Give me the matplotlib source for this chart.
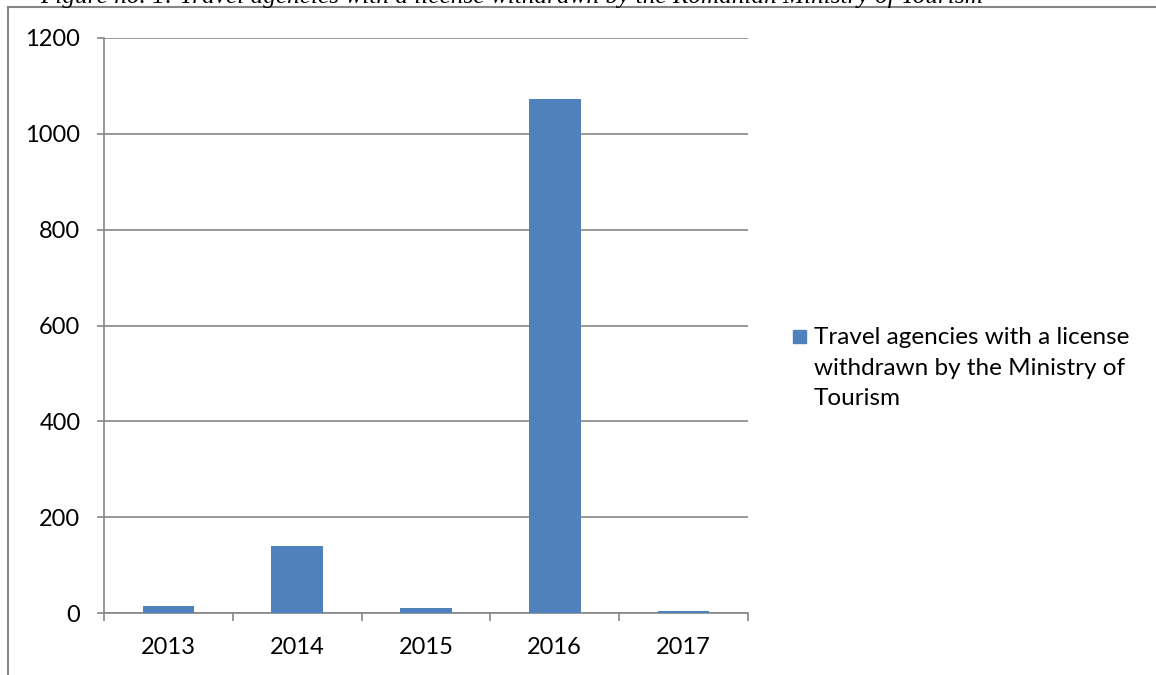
import numpy as np
import matplotlib.pyplot as plt
from matplotlib.lines import Line2D
from matplotlib.patches import Rectangle

# data
years = ["2013", "2014", "2015", "2016", "2017"]
withdrawn = [15, 140, 10, 1073, 5]
yticks = [0, 200, 400, 600, 800, 1000, 1200]
legend_label = "Travel agencies with a license\nwithdrawn by the Ministry of\nTourism"
caption = "Figure no. 1: Travel agencies with a license withdrawn by the Romanian Ministry of Tourism"

grey = "#868686"
blue = "#4F81BD"

plt.rcParams['font.family'] = ['Lato', 'DejaVu Sans']

fig = plt.figure(figsize=(11.56, 6.75), dpi=100)
ax = fig.add_axes([104 / 1156, 1 - 613 / 675, 644 / 1156, 575 / 675])

x = np.arange(len(years))
ax.bar(x, withdrawn, width=0.4, color=blue, zorder=3)

ax.set_xlim(-0.5, len(years) - 0.5)
ax.set_ylim(0, 1200)
ax.set_yticks(yticks)
ax.yaxis.grid(True, color=grey, linewidth=1.2, zorder=0)

for s in ["top", "right"]:
    ax.spines[s].set_visible(False)
for s in ["left", "bottom"]:
    ax.spines[s].set_color(grey)
    ax.spines[s].set_linewidth(1.2)

ax.set_xticks(x)
ax.set_xticklabels(years)
ax.set_xticks(np.arange(len(years) + 1) - 0.5, minor=True)
ax.tick_params(axis="x", which="major", length=0, pad=17, labelsize=17)
ax.tick_params(axis="x", which="minor", length=6, color=grey, width=1.2)
ax.tick_params(axis="y", length=5, color=grey, width=1.2, pad=12, labelsize=17)

# legend drawn by hand so the square lines up with the first line
fig.patches.append(Rectangle((793 / 1156, 1 - 343 / 675), 13 / 1156, 13 / 675,
                             transform=fig.transFigure, color=blue))
fig.text(814 / 1156, 1 - 327 / 675, legend_label, fontsize=17.5, va="top",
         ha="left", linespacing=1.57)

# page frame and cut-off caption
fig.lines.append(Line2D([8 / 1156, 1], [1 - 7 / 675, 1 - 7 / 675],
                        transform=fig.transFigure, color=grey, linewidth=1.5))
fig.lines.append(Line2D([8 / 1156, 8 / 1156], [1 - 7 / 675, 0],
                        transform=fig.transFigure, color=grey, linewidth=1.5))
fig.text(40 / 1156, 1 - 3 / 675, caption, fontsize=18.2, style="italic",
         family="Liberation Serif", va="baseline", ha="left")

fig.savefig("out.png", dpi=100)
